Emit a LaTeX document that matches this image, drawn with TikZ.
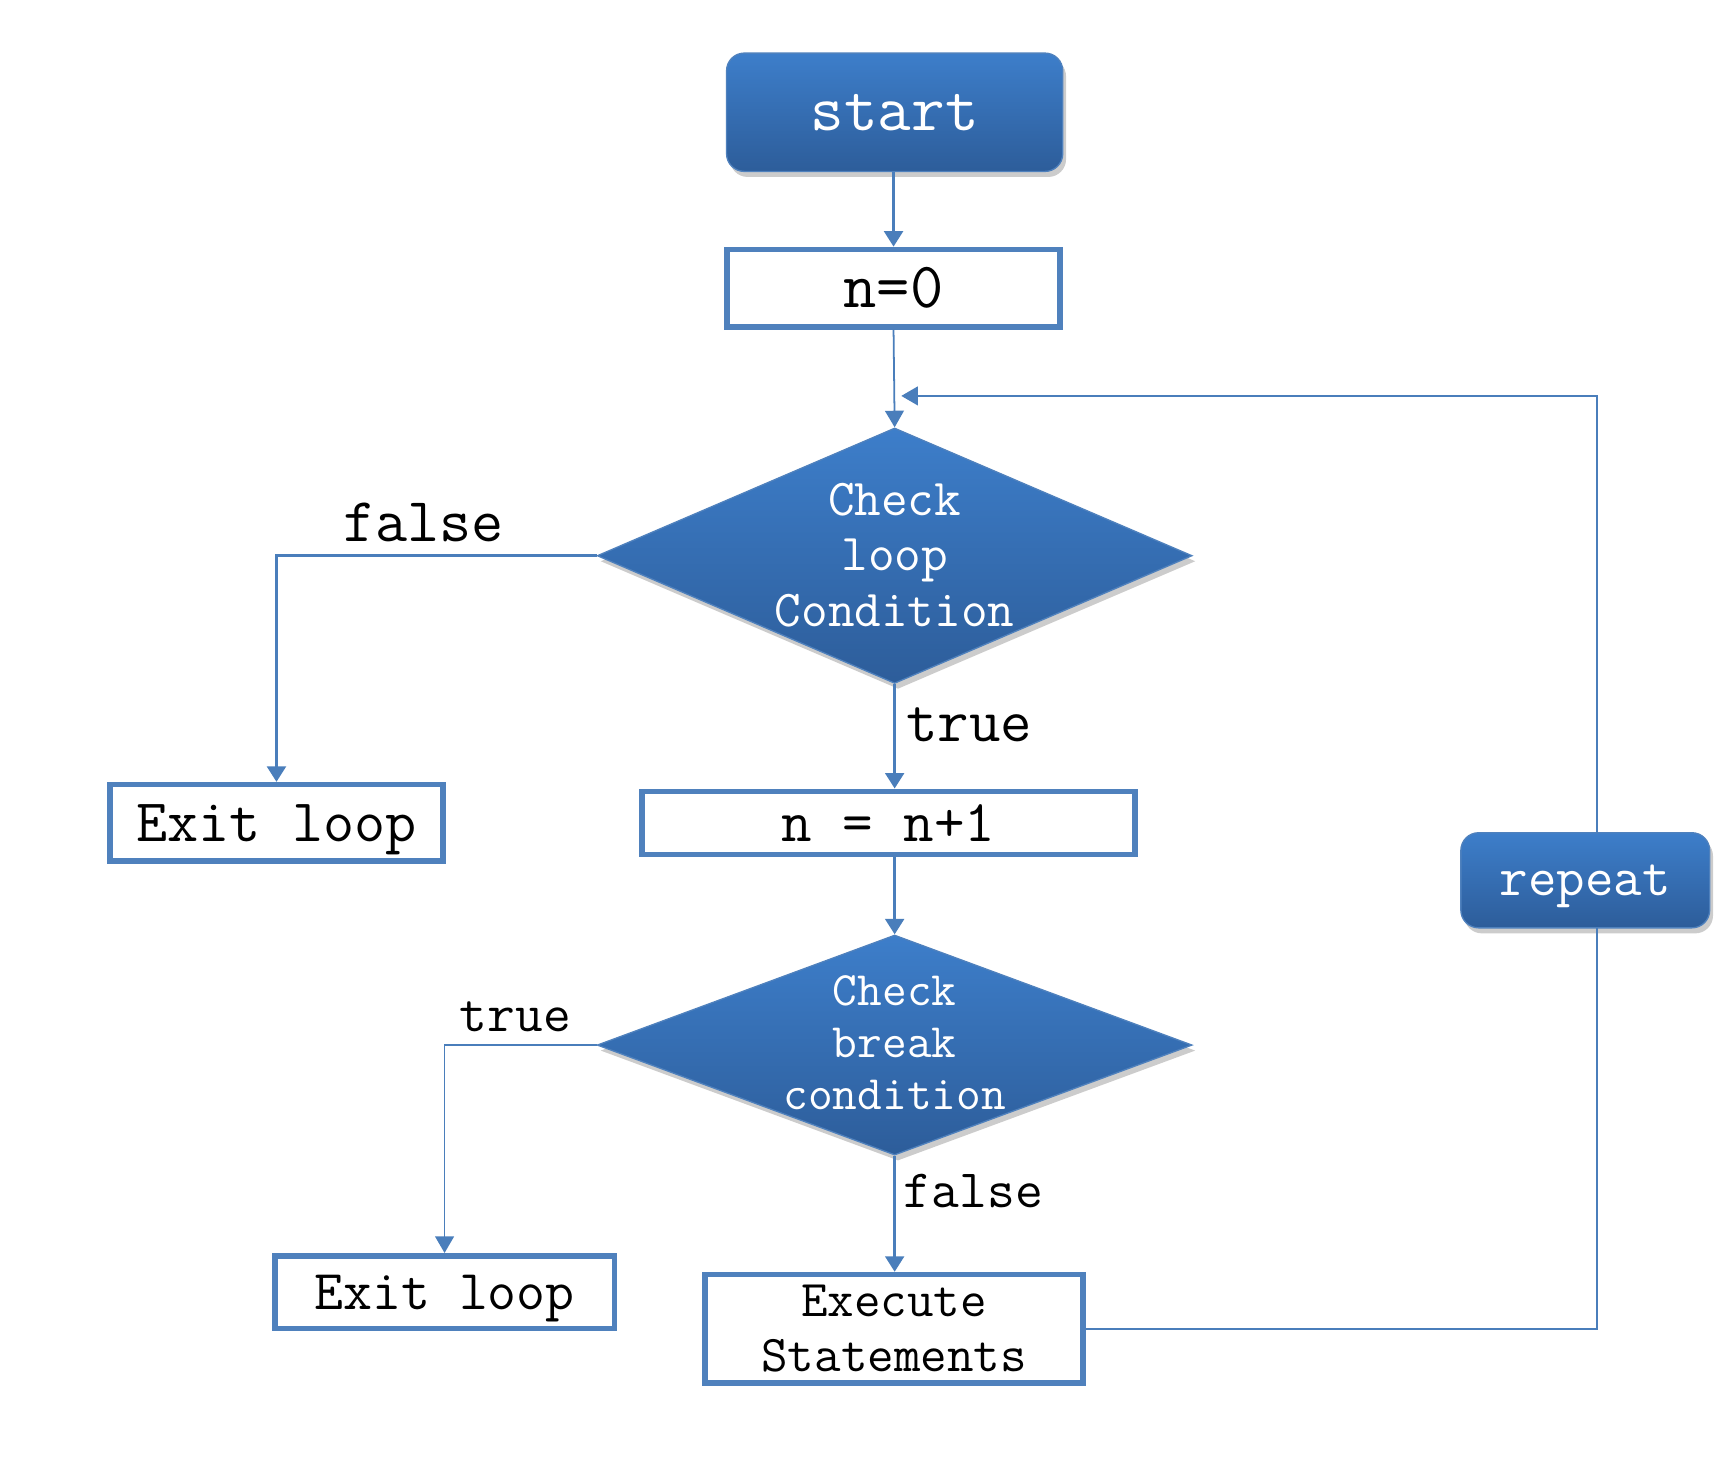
\documentclass[tikz,border=0pt]{standalone}
\usetikzlibrary{arrows.meta,shapes.geometric,shadows}
\definecolor{bord}{RGB}{79,129,189}
\definecolor{lin}{RGB}{74,126,187}
\definecolor{topc}{RGB}{61,126,202}
\definecolor{botc}{RGB}{45,93,154}
\begin{document}
\begin{tikzpicture}[x=0.5pt,y=-0.5pt,
  blk/.style={draw=bord, line width=0.6pt, top color=topc, bottom color=botc, text=white,
     drop shadow={shadow xshift=1.5pt, shadow yshift=-2.5pt, opacity=0.2, fill=black}},
  rbox/.style={blk, rectangle, rounded corners=8pt, inner sep=0pt},
  dia/.style={blk, diamond, inner sep=0pt},
  wbox/.style={draw=bord, line width=2.5pt, fill=white, rectangle, inner sep=0pt, align=center},
  tk/.style={draw=lin, line width=1.3pt, -{Triangle[length=7pt,width=8.5pt]}},
  tn/.style={draw=lin, line width=0.8pt, -{Triangle[length=7.5pt,width=8.5pt]}},
  tnl/.style={draw=lin, line width=0.8pt},
  lab/.style={inner sep=0pt, align=center}
]
\useasboundingbox (0,0) rectangle (1568,1329);
% nodes
\node[rbox, minimum width=152pt, minimum height=53.5pt, font=\ttfamily\fontsize{29.5}{30}\selectfont] (start) at (809,101.5) {start};
\node[wbox, minimum width=150.5pt, minimum height=35pt, font=\ttfamily\fontsize{29.2}{30}\selectfont] (n0) at (808,260.5) {n=0};
\node[dia, minimum width=269pt, minimum height=115.5pt] (d1) at (809,502.5) {};
\node[lab, text=white, font=\ttfamily\fontsize{23.4}{25}\selectfont] (d1t) at (809,502) {Check\\loop\\Condition};
\node[wbox, minimum width=150.5pt, minimum height=34.5pt, text depth=0pt, font=\ttfamily\fontsize{27.3}{28}\selectfont] (exit1) at (250,744) {Exit loop};
\node[wbox, minimum width=223pt, minimum height=28.5pt, font=\ttfamily\fontsize{26.8}{28}\selectfont] (inc) at (803.5,744) {n = n+1};
\node[dia, minimum width=269pt, minimum height=99.5pt] (d2) at (809,945) {};
\node[lab, text=white, font=\ttfamily\fontsize{21.7}{23.5}\selectfont] (d2t) at (809,943) {Check\\break\\condition};
\node[wbox, minimum width=153.5pt, minimum height=33pt, text depth=0pt, font=\ttfamily\fontsize{25.4}{27}\selectfont] (exit2) at (402,1168.5) {Exit loop};
\node[wbox, minimum width=171pt, minimum height=49pt, font=\ttfamily\fontsize{23.3}{25}\selectfont] (exec) at (808.5,1201.5) {Execute\\Statements};
\node[rbox, minimum width=112.5pt, minimum height=43pt, text depth=0pt, font=\ttfamily\fontsize{25}{26}\selectfont] (rep) at (1433.5,796) {repeat};
% labels
\node[lab, font=\ttfamily\fontsize{28.2}{29}\selectfont] (lf1) at (383,472) {false};
\node[lab, anchor=west, font=\ttfamily\fontsize{27.6}{28}\selectfont] (lt1) at (819,655) {true};
\node[lab, font=\ttfamily\fontsize{24.3}{25}\selectfont] (lt2) at (466,919) {true};
\node[lab, anchor=west, font=\ttfamily\fontsize{24.4}{25}\selectfont] (lf2) at (817,1077) {false};
% coordinates
\coordinate (ret) at (815,358);
\coordinate (repup) at (1444,754);
\coordinate (repdn) at (1444,839);
% connectors
\draw[tk] (start.south -| n0.north) -- (n0.north);
\draw[tn] (n0.south) -- (d1.north);
\draw[tk] (d1.west) -| (exit1.north);
\draw[tk] (d1.south) -- (d1.south |- inc.north);
\draw[tk] (d1.south |- inc.south) -- (d2.north);
\draw[tn] (d2.west) -| (exit2.north);
\draw[tk] (d2.south) -- (d2.south |- exec.north);
\draw[tnl] (exec.east) -| (repdn);
\draw[tn] (repup) |- (ret);
\end{tikzpicture}
\end{document}
